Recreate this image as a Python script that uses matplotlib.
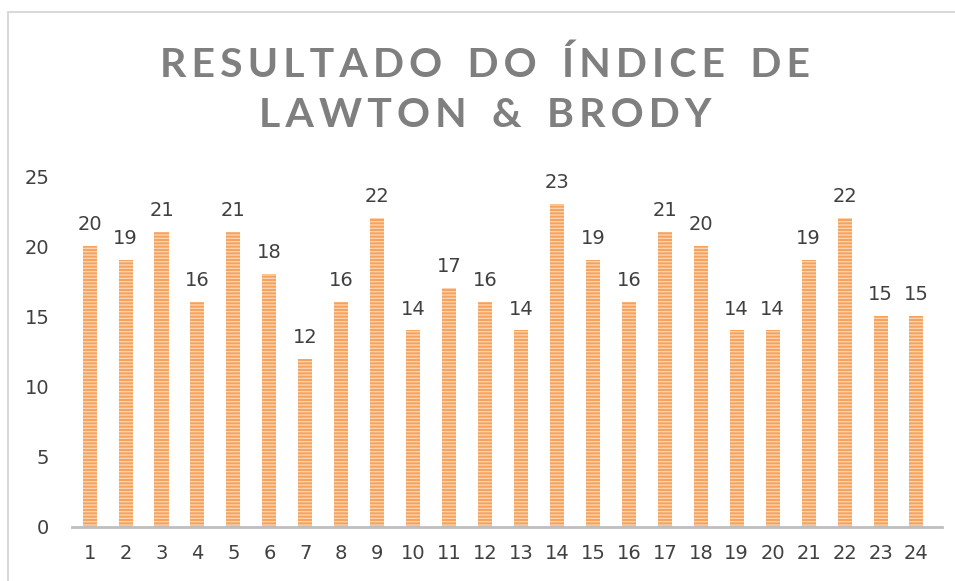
import matplotlib.pyplot as plt
from matplotlib.patches import Rectangle

# Data
categories = [str(i) for i in range(1, 25)]
values = [20, 19, 21, 16, 21, 18, 12, 16, 22, 14, 17, 16, 14, 23, 19, 16, 21, 20, 14, 14, 19, 22, 15, 15]
title_lines = ["RESULTADO DO ÍNDICE DE", "LAWTON & BRODY"]


def spaced(s):
    # letter spacing via thin spaces
    return "\u2009".join(s).replace("\u2009 \u2009", "\u2009\u2009 \u2009")


plt.rcParams['hatch.color'] = '#FAD3AE'
plt.rcParams['hatch.linewidth'] = 1.0

fig = plt.figure(figsize=(9.55, 5.81), dpi=100)
ax = fig.add_axes([0.075, 0.093, 0.911, 0.604])

x = list(range(1, len(values) + 1))
ax.bar(x, values, width=0.39, color='#F5A25C', hatch='-----', linewidth=0)

for xi, v in zip(x, values):
    ax.text(xi, v + 0.85, str(v), ha='center', va='bottom', fontsize=14, color='#404040')

ax.set_xlim(0.5, 24.7)
ax.set_ylim(0, 25)
ax.set_xticks(x)
ax.set_xticklabels(categories)
ax.set_yticks([0, 5, 10, 15, 20, 25])
ax.tick_params(axis='both', length=0, labelsize=14, labelcolor='#404040')
ax.tick_params(axis='x', pad=12)
ax.tick_params(axis='y', pad=16)
for s in ['top', 'right', 'left']:
    ax.spines[s].set_visible(False)
ax.spines['bottom'].set_color('#BFBFBF')
ax.spines['bottom'].set_linewidth(2)

title = "\n".join(spaced(t) for t in title_lines)
fig.text(0.508, 0.845, title, ha='center', va='center', fontsize=29.5, fontweight='bold',
         family=['Lato', 'DejaVu Sans'], color='#7F7F7F', linespacing=1.45)

# chart border
fig.patches.append(Rectangle((8 / 955, -0.05), 1.1, 1 - 12 / 581 + 0.05, transform=fig.transFigure,
                             fill=False, edgecolor='#D9D9D9', linewidth=1.5))

fig.savefig('out.png', dpi=100)
